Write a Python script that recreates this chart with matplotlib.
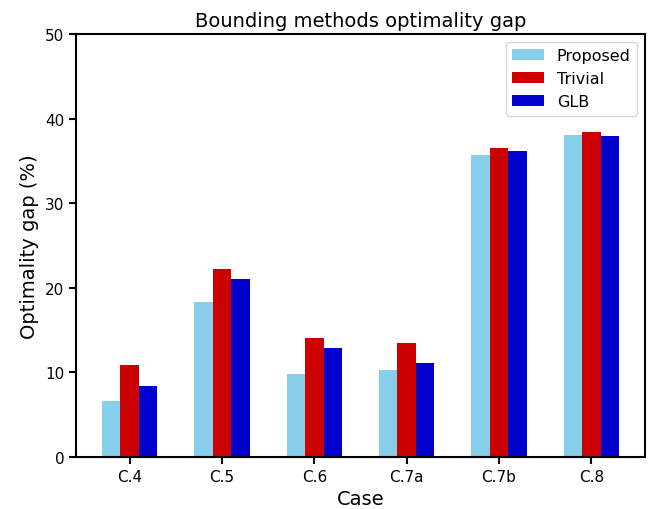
import matplotlib
matplotlib.use("Agg")
import matplotlib.pyplot as plt
import numpy as np

cases = ["C.4", "C.5", "C.6", "C.7a", "C.7b", "C.8"]
proposed = [6.6, 18.3, 9.8, 10.3, 35.7, 38.1]
trivial = [10.9, 22.2, 14.1, 13.5, 36.5, 38.4]
glb = [8.4, 21.0, 12.9, 11.1, 36.2, 37.9]

fig = plt.figure(figsize=(6.57, 5.10), dpi=100)
ax = fig.add_axes([76/657, 1 - 458/510, (645-76)/657, (458-35)/510])
x = np.arange(len(cases))
w = 0.2
ax.bar(x - w, proposed, w, color="#87CEEB", label="Proposed")
ax.bar(x, trivial, w, color="#CC0000", label="Trivial")
ax.bar(x + w, glb, w, color="#0000CC", label="GLB")
ax.set_xticks(x)
ax.set_xticklabels(cases)
ax.set_ylim(0, 50)
ax.tick_params(labelsize=11, width=1.5, length=5)
for s in ax.spines.values():
    s.set_linewidth(1.5)
ax.set_xlabel("Case", fontsize=14)
ax.set_ylabel("Optimality gap (%)", fontsize=14)
ax.set_title("Bounding methods optimality gap", fontsize=14)
ax.legend(loc="upper right", fontsize=11.5)
fig.savefig("out.png", dpi=100)
